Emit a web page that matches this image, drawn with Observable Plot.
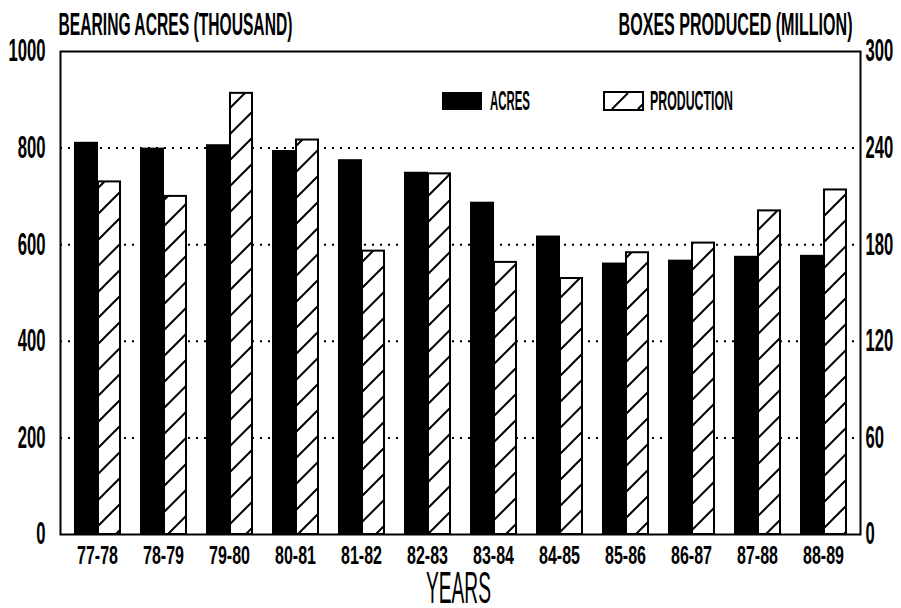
<!DOCTYPE html>
<html><head><meta charset="utf-8">
<script src="https://cdn.jsdelivr.net/npm/d3@7"></script>
<script src="https://cdn.jsdelivr.net/npm/@observablehq/plot@0.6"></script>
<style>body{margin:0;background:#fff}</style>
</head><body><div id="chart"></div>
<script>
const years = ["77-78","78-79","79-80","80-81","81-82","82-83","83-84","84-85","85-86","86-87","87-88","88-89"];
const acres = [812, 800, 807, 795, 776, 750, 688, 618, 562, 568, 576, 578];        // thousand acres (left axis)
const production = [219, 210, 274, 245, 176, 224, 169, 159, 175, 181, 201, 214];  // million boxes (right axis)
const leftTicks = [0, 200, 400, 600, 800, 1000];
const rightTicks = [0, 60, 120, 180, 240, 300];
const gridTicks = [200, 400, 600, 800];
const leftMax = 1000, rightMax = 300;
const ratio = leftMax / rightMax;

const acresData = years.map((y, i) => ({year: y, value: acres[i]}));
const prodData = years.map((y, i) => ({year: y, value: production[i] * ratio}));

const FONT = "'Liberation Sans', Arial, sans-serif";

const chart = Plot.plot({
  width: 901, height: 608,
  marginLeft: 60, marginRight: 41, marginTop: 51, marginBottom: 74,
  style: {fontFamily: FONT, fontWeight: "bold", background: "white", color: "black", overflow: "visible"},
  x: {domain: years, paddingInner: 0.31, paddingOuter: 0.155, axis: null},
  y: {domain: [0, leftMax], axis: null},
  marks: [
    Plot.ruleY(gridTicks, {stroke: "black", strokeWidth: 2, strokeDasharray: "2,6"}),
    Plot.barY(acresData, {x: "year", y: "value", fill: "black", insetRight: 22}),
    Plot.barY(prodData, {x: "year", y: "value", fill: "url(#hatch)", stroke: "black", strokeWidth: 2, insetLeft: 24}),
    Plot.frame({stroke: "black", strokeWidth: 2}),
    Plot.axisY(leftTicks, {anchor: "left", label: null, tickSize: 0, tickPadding: 15, fontSize: 31,
      tickFormat: d => String(d)}),
    Plot.axisY(rightTicks.map(v => v * ratio), {anchor: "right", label: null, tickSize: 0, tickPadding: 5, fontSize: 31,
      tickFormat: d => String(Math.round(d / ratio))}),
    Plot.axisX({label: null, tickSize: 0, tickPadding: 12, fontSize: 25}),
    Plot.text(["BEARING ACRES (THOUSAND)"], {frameAnchor: "top-left", lineAnchor: "middle", textAnchor: "start", dx: -2, dy: -26, fontSize: 31}),
    Plot.text(["BOXES PRODUCED (MILLION)"], {frameAnchor: "top-right", lineAnchor: "middle", textAnchor: "end", dx: -8, dy: -26, fontSize: 31}),
    Plot.text(["YEARS"], {frameAnchor: "bottom", lineAnchor: "middle", dx: -2, dy: 54, fontSize: 45, fontWeight: "normal"})
  ]
});

document.getElementById("chart").appendChild(chart);
const svg = d3.select(chart);

// hatch pattern
const defs = svg.insert("defs", ":first-child");
const pat = defs.append("pattern").attr("id", "hatch").attr("patternUnits", "userSpaceOnUse")
  .attr("width", 26).attr("height", 26);
pat.append("rect").attr("width", 26).attr("height", 26).attr("fill", "white");
pat.append("path").attr("d", "M0,26L26,0M-6.5,6.5L6.5,-6.5M19.5,32.5L32.5,19.5")
  .attr("stroke", "black").attr("stroke-width", 2);

// condense text horizontally (plotter-style narrow font)
function condense(el, s) {
  const t = el.getAttribute("transform");
  if (t) { el.setAttribute("transform", t + ` scale(${s},1)`); return; }
  const x = parseFloat(el.getAttribute("x") || "0");
  el.setAttribute("x", 0);
  el.setAttribute("transform", `translate(${x},0) scale(${s},1)`);
}
const texts = svg.selectAll("text").nodes();
const ref1000 = texts.find(n => n.textContent.trim() === "1000");
const numScale = ref1000 ? 37 / ref1000.getBBox().width : 0.55;
const targets = {"BEARING ACRES (THOUSAND)": 234, "BOXES PRODUCED (MILLION)": 234, "YEARS": 65};
texts.forEach(n => {
  const s = n.textContent.trim();
  if (/^\d+$/.test(s)) condense(n, numScale);
  else if (/^\d\d-\d\d$/.test(s)) condense(n, 41 / n.getBBox().width);
  else if (targets[s]) condense(n, targets[s] / n.getBBox().width);
});

// legend
const lg = svg.append("g").attr("font-family", FONT).attr("font-weight", "bold").attr("font-size", 27)
  .attr("fill", "black").attr("text-anchor", "start");
lg.append("rect").attr("x", 442).attr("y", 92).attr("width", 40).attr("height", 18).attr("fill", "black");
lg.append("rect").attr("x", 604).attr("y", 92).attr("width", 39).attr("height", 18)
  .attr("fill", "white").attr("stroke", "black").attr("stroke-width", 2);
lg.append("path").attr("d", "M612,109L628,93M638,109L643,104").attr("stroke", "black").attr("stroke-width", 2);
[["ACRES", 490, 40], ["PRODUCTION", 650, 83]].forEach(([label, x, w]) => {
  const t = lg.append("text").attr("x", 0).attr("dy", "0.35em").text(label);
  const k = w / t.node().getBBox().width;
  t.attr("transform", `translate(${x},101) scale(${k},1)`);
});
</script>
</body></html>
